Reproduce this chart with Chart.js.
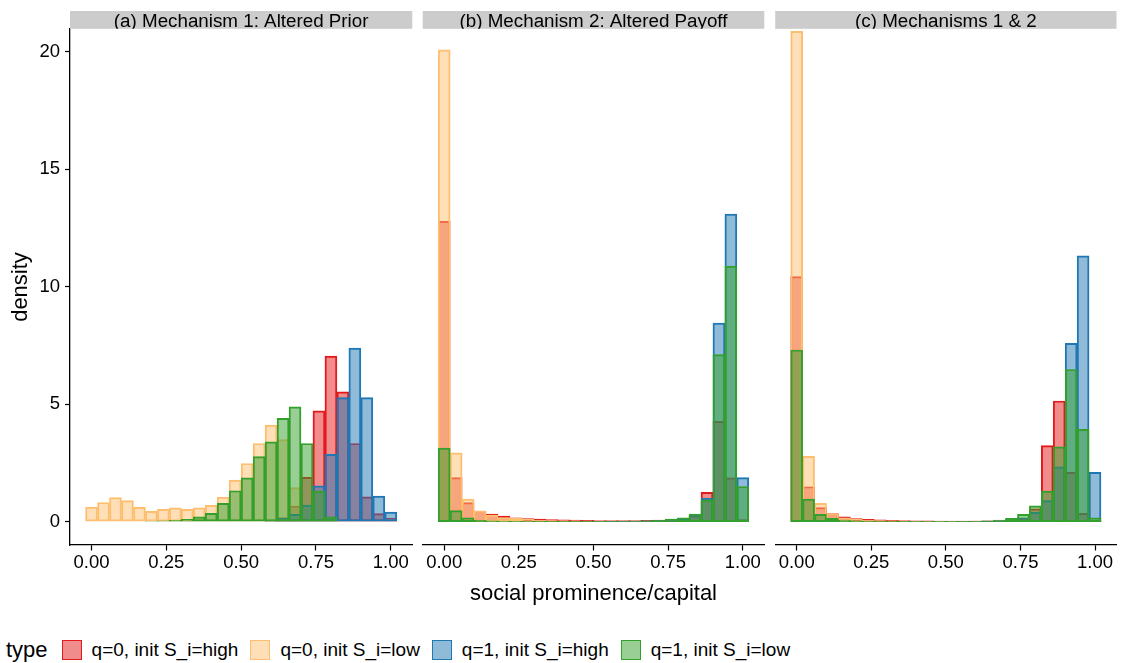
<!DOCTYPE html>
<html>
<head>
<meta charset="utf-8">
<script src="https://cdn.jsdelivr.net/npm/chart.js@4.4.1/dist/chart.umd.min.js"></script>
<style>
  html, body { margin: 0; padding: 0; background: #ffffff; }
  #wrap { position: relative; width: 1121px; height: 663px; overflow: hidden; background: #fff; font-family: "Liberation Sans", Arial, Helvetica, sans-serif; }
  canvas { position: absolute; top: 0; }
  #legend { position: absolute; left: 6px; top: 637px; height: 26px; display: flex; align-items: center; color: #000; white-space: nowrap; }
  #legend .ttl { font-size: 22px; margin-right: 14px; }
  #legend .key { width: 18px; height: 18px; border-width: 1.3px; border-style: solid; margin-right: 10px; }
  #legend .lab { font-size: 19px; margin-right: 12px; }
</style>
</head>
<body>
<div id="wrap">
  <canvas id="pa" width="418" height="610" style="left:0px;width:418px;height:610px"></canvas>
  <canvas id="pb" width="352" height="610" style="left:418px;width:352px;height:610px"></canvas>
  <canvas id="pc" width="351" height="610" style="left:770px;width:351px;height:610px"></canvas>
  <div id="legend"></div>
</div>
<script>
// ---------- data ----------
const binCenters = [0.00,0.04,0.08,0.12,0.16,0.20,0.24,0.28,0.32,0.36,0.40,0.44,0.48,0.52,0.56,0.60,0.64,0.68,0.72,0.76,0.80,0.84,0.88,0.92,0.96,1.00];
const seriesLabels = ["q=0, init S_i=high", "q=0, init S_i=low", "q=1, init S_i=high", "q=1, init S_i=low"];
const panelTitles = ["(a) Mechanism 1: Altered Prior", "(b) Mechanism 2: Altered Payoff", "(c) Mechanisms 1 & 2"];
const xTickValues = [0, 0.25, 0.5, 0.75, 1];
const yTickValues = [0, 5, 10, 15, 20];
const xAxisTitle = "social prominence/capital";
const yAxisTitle = "density";
const legendTitle = "type";

// Panel (a)
const redA    = [0,0,0,0,0,0,0,0,0,0,0,0,0,0,0,0.05,0.18,0.67,1.89,4.72,7.05,5.53,3.33,1.06,0.35,0.14];
const orangeA = [0.62,0.82,1.03,0.90,0.61,0.44,0.53,0.59,0.53,0.59,0.70,1.05,1.77,2.48,3.33,4.11,3.50,1.45,0,0,0,0,0,0,0,0];
const blueA   = [0,0,0,0,0,0,0,0,0,0,0,0,0,0,0,0.03,0.14,0.31,0.71,1.53,2.87,5.28,7.39,5.28,1.09,0.41];
const greenA  = [0,0,0,0,0,0.02,0.04,0.06,0.10,0.21,0.36,0.78,1.32,1.87,2.77,3.40,4.40,4.89,3.33,1.30,0.21,0,0,0,0,0];
// Panel (b)
const redB    = [12.78,1.88,0.81,0.45,0.33,0.24,0.17,0.13,0.11,0.09,0.08,0.07,0.06,0.05,0.05,0.05,0.05,0.06,0.07,0.09,0.12,0.25,1.25,4.27,1.87,0.09];
const orangeB = [20.08,2.93,0.96,0.45,0.28,0.18,0.14,0.10,0.07,0.05,0.04,0.03,0.02,0.02,0.02,0.02,0.02,0.02,0.02,0.02,0.02,0.02,0,0,0,0];
const blueB   = [0,0,0,0,0,0,0,0,0,0,0,0,0.01,0.01,0.02,0.02,0.03,0.04,0.05,0.07,0.12,0.28,1.00,8.45,13.09,1.88];
const greenB  = [3.13,0.47,0.17,0.06,0.04,0.03,0.02,0.02,0.02,0.02,0.02,0.02,0.02,0.02,0.02,0.03,0.03,0.04,0.06,0.11,0.17,0.33,0.93,7.11,10.88,1.50];
// Panel (c)
const redC    = [10.43,1.49,0.60,0.35,0.21,0.13,0.10,0.08,0.06,0.05,0.04,0.04,0.03,0.03,0.03,0.03,0.04,0.05,0.08,0.15,0.55,3.24,5.14,2.10,0.36,0.07];
const orangeC = [20.87,2.78,0.78,0.35,0.17,0.10,0.07,0.05,0.04,0.03,0.02,0.02,0.02,0.02,0.02,0.01,0.01,0.01,0,0,0,0,0,0,0,0];
const blueC   = [0,0,0,0,0,0,0,0,0,0,0,0,0,0,0.01,0.01,0.02,0.05,0.10,0.17,0.40,0.90,2.34,7.59,11.32,2.10];
const greenC  = [7.31,0.96,0.31,0.14,0.07,0.04,0.03,0.03,0.02,0.02,0.02,0.02,0.02,0.02,0.02,0.03,0.04,0.07,0.14,0.31,0.68,1.30,3.19,6.48,3.93,0.17];

// ---------- styling ----------
const lineColors = ["#E31A1C", "#FDBF6F", "#1F78B4", "#33A02C"];
const fillColors = ["rgba(227,26,28,0.5)", "rgba(253,191,111,0.5)", "rgba(31,120,180,0.5)", "rgba(51,160,44,0.5)"];
const FONT = '"Liberation Sans", Arial, Helvetica, sans-serif';

const stripPlugin = {
  id: 'strip',
  afterDraw(chart, args, opts) {
    const { ctx, chartArea } = chart;
    const l = chartArea.left, r = chartArea.right;
    const top = 11, h = 17.8;
    ctx.save();
    ctx.fillStyle = '#CCCCCC';
    ctx.fillRect(l, top, r - l, h);
    ctx.beginPath();
    ctx.rect(l, top, r - l, h);
    ctx.clip();
    ctx.fillStyle = '#000';
    ctx.font = '18.8px ' + FONT;
    ctx.textAlign = 'center';
    ctx.textBaseline = 'alphabetic';
    ctx.fillText(opts.text, (l + r) / 2, 27.3);
    ctx.restore();
  }
};

function makePanel(id, title, values, opt) {
  const datasets = values.map((vals, i) => ({
    label: seriesLabels[i],
    data: binCenters.map((c, j) => ({ x: c, y: vals[j] })),
    backgroundColor: fillColors[i],
    borderColor: lineColors[i],
    borderWidth: 1.3,
    borderSkipped: false,
    grouped: false,
    barPercentage: 1,
    categoryPercentage: 1,
    order: 4 - i
  }));
  return new Chart(document.getElementById(id), {
    type: 'bar',
    data: { datasets },
    options: {
      responsive: false,
      animation: false,
      devicePixelRatio: 1,
      events: [],
      layout: { padding: { left: opt.padLeft, right: opt.padRight, top: 29, bottom: 0 } },
      plugins: { legend: { display: false }, tooltip: { enabled: false }, strip: { text: title } },
      scales: {
        x: {
          type: 'linear',
          min: -0.072, max: 1.072,
          offset: false,
          afterBuildTicks: s => { s.ticks = xTickValues.map(v => ({ value: v })); },
          afterFit: s => { s.height = 65; },
          ticks: { callback: v => Number(v).toFixed(2), color: '#000', font: { family: FONT, size: 18.5 }, padding: 1, maxRotation: 0, autoSkip: false },
          grid: { display: true, drawOnChartArea: false, drawTicks: true, tickLength: 5.5, tickColor: '#000', tickWidth: 1.2, offset: false },
          border: { display: true, color: '#000', width: 1.3 },
          title: { display: opt.xTitle, text: xAxisTitle, color: '#000', font: { family: FONT, size: 22 }, padding: { top: 0, bottom: 3 } }
        },
        y: {
          type: 'linear',
          min: -0.99, max: 20.97,
          display: opt.showY,
          afterBuildTicks: s => { s.ticks = yTickValues.map(v => ({ value: v })); },
          afterFit: s => { s.width = opt.showY ? 70 : 0; },
          ticks: { color: '#000', font: { family: FONT, size: 18.5 }, padding: 5 },
          grid: { display: true, drawOnChartArea: false, drawTicks: true, tickLength: 5, tickColor: '#000', tickWidth: 1.2 },
          border: { display: true, color: '#000', width: 1.3 },
          title: { display: true, text: yAxisTitle, color: '#000', font: { family: FONT, size: 22 }, padding: { top: 8, bottom: 0 } }
        }
      }
    },
    plugins: [stripPlugin]
  });
}

makePanel('pa', panelTitles[0], [redA, orangeA, blueA, greenA], { padLeft: 0, padRight: 5.7, showY: true, xTitle: false });
makePanel('pb', panelTitles[1], [redB, orangeB, blueB, greenB], { padLeft: 4.7, padRight: 5.7, showY: false, xTitle: true });
makePanel('pc', panelTitles[2], [redC, orangeC, blueC, greenC], { padLeft: 5.2, padRight: 4.5, showY: false, xTitle: false });

// ---------- legend ----------
const lg = document.getElementById('legend');
const t = document.createElement('span'); t.className = 'ttl'; t.textContent = legendTitle; lg.appendChild(t);
seriesLabels.forEach((lab, i) => {
  const k = document.createElement('span'); k.className = 'key';
  k.style.background = fillColors[i]; k.style.borderColor = lineColors[i];
  lg.appendChild(k);
  const s = document.createElement('span'); s.className = 'lab'; s.textContent = lab; lg.appendChild(s);
});
</script>
</body>
</html>
